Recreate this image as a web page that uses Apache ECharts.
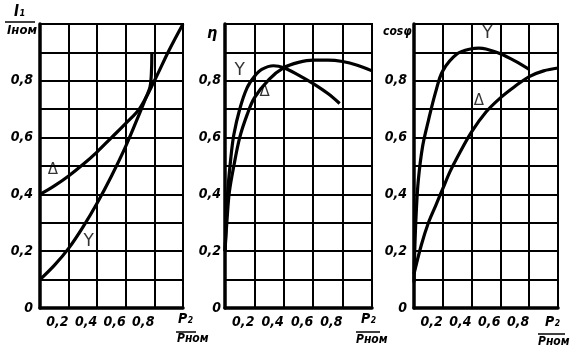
<!DOCTYPE html>
<html><head><meta charset="utf-8">
<script src="https://cdn.jsdelivr.net/npm/echarts@6/dist/echarts.min.js"></script>
<style>html,body{margin:0;padding:0;background:#fff}#c{width:577px;height:357px}</style>
</head><body><div id="c"></div>
<script>
// ---- data ----
const yTickLabels = ['0', '0,2', '0,4', '0,6', '0,8'];
const xTickLabels = ['0,2', '0,4', '0,6', '0,8'];

// panel 1: I1/Iном vs P2/Pном
const current_delta = [[0,0.40],[0.1,0.43],[0.2,0.465],[0.3,0.505],[0.4,0.55],[0.5,0.60],[0.6,0.65],[0.7,0.705],[0.8,0.80],[0.9,0.905],[1.0,1.0]];
const current_star = [[0,0.10],[0.1,0.15],[0.2,0.21],[0.3,0.285],[0.4,0.37],[0.5,0.465],[0.6,0.57],[0.7,0.69],[0.74,0.74],[0.77,0.78],[0.78,0.84],[0.782,0.9]];
// panel 2: η
const eff_star = [[0,0.2],[0.01,0.32],[0.02,0.42],[0.04,0.53],[0.06,0.61],[0.1,0.70],[0.15,0.775],[0.2,0.815],[0.25,0.84],[0.33,0.853],[0.4,0.846],[0.5,0.82],[0.6,0.79],[0.7,0.755],[0.78,0.72]];
const eff_delta = [[0,0.2],[0.015,0.32],[0.03,0.41],[0.06,0.5],[0.1,0.6],[0.15,0.68],[0.2,0.74],[0.3,0.805],[0.4,0.846],[0.5,0.865],[0.6,0.873],[0.7,0.873],[0.8,0.868],[0.9,0.855],[1.0,0.835]];
// panel 3: cosφ
const cos_star = [[0,0.09],[0.005,0.2],[0.015,0.33],[0.03,0.45],[0.06,0.57],[0.1,0.66],[0.15,0.76],[0.2,0.835],[0.3,0.895],[0.4,0.913],[0.45,0.915],[0.5,0.912],[0.6,0.895],[0.7,0.87],[0.8,0.84]];
const cos_delta = [[0,0.12],[0.05,0.22],[0.1,0.30],[0.15,0.36],[0.2,0.42],[0.25,0.48],[0.3,0.53],[0.4,0.62],[0.5,0.69],[0.6,0.74],[0.7,0.78],[0.8,0.815],[0.9,0.835],[1.0,0.845]];

// curve tag positions [x, y]
const tags = [
  [{t:'Δ', p:[0.09,0.485]}, {t:'Y', p:[0.34,0.235]}],
  [{t:'Y', p:[0.10,0.835]}, {t:'Δ', p:[0.27,0.76]}],
  [{t:'Y', p:[0.51,0.965]}, {t:'Δ', p:[0.45,0.73]}]
];

// ---- chart ----
const FONT = '"Liberation Sans Narrow","DejaVu Sans Condensed","Liberation Sans",sans-serif';
const grids = [
  {left:40, top:24, width:143, height:284},
  {left:225, top:24, width:147, height:284},
  {left:414, top:24, width:144, height:284}
];
const yMargins = [7, 4, 7];
const curves = [[current_delta, current_star],[eff_star, eff_delta],[cos_star, cos_delta]];

const option = {
  animation:false,
  backgroundColor:'#fff',
  grid: grids.map(g => Object.assign({show:true, borderColor:'#000', borderWidth:2, containLabel:false}, g)),
  xAxis: grids.map((g,i) => ({
    type:'value', gridIndex:i, min:0, max:1, interval:0.2,
    axisLine:{show:true, onZero:false, lineStyle:{color:'#000', width:3.5}},
    axisTick:{show:false},
    splitLine:{show:true, lineStyle:{color:'#000', width:2}},
    axisLabel:{
      show:true, margin:7, align:'right', color:'#000',
      fontFamily:FONT, fontStyle:'italic', fontWeight:'bold', fontSize:14,
      formatter: v => { const k = Math.round(v*5); return (k>=1 && k<=4) ? xTickLabels[k-1] : ''; }
    }
  })),
  yAxis: grids.map((g,i) => ({
    type:'value', gridIndex:i, min:0, max:1, interval:0.1,
    axisLine:{show:true, onZero:false, lineStyle:{color:'#000', width:3.5}},
    axisTick:{show:false},
    splitLine:{show:true, lineStyle:{color:'#000', width:2}},
    axisLabel:{
      show:true, margin:yMargins[i], color:'#000',
      fontFamily:FONT, fontStyle:'italic', fontWeight:'bold', fontSize:14,
      formatter: v => { const k = Math.round(v*10); return (k%2===0 && k<10) ? yTickLabels[k/2] : ''; }
    }
  })),
  series: [],
  graphic: []
};

curves.forEach((pair, i) => {
  pair.forEach(d => option.series.push({
    type:'line', xAxisIndex:i, yAxisIndex:i, data:d, showSymbol:false, symbol:'none',
    smooth:0.35, lineStyle:{color:'#000', width:3.2}, z:5
  }));
  tags[i].forEach(tg => option.series.push({
    type:'scatter', xAxisIndex:i, yAxisIndex:i, data:[tg.p], symbolSize:1,
    itemStyle:{color:'rgba(0,0,0,0)'},
    label:{show:true, position:'inside', formatter:tg.t, color:'#000',
      fontFamily:'"DejaVu Sans",sans-serif', fontSize:tg.t==='Y'?17:15, fontWeight:'normal'},
    z:6
  }));
});

// axis names (fractions / symbols)
const txt = (x,y,text,size,extra) => Object.assign({type:'text', left:x, top:y,
  style:{text:text, fill:'#000', font:`italic bold ${size}px ${FONT}`}}, extra||{});
const bar = (x1,x2,y) => ({type:'line', shape:{x1:x1,y1:y,x2:x2,y2:y}, style:{stroke:'#000', lineWidth:1.5}});
option.graphic.push(
  // panel 1 y name
  txt(14,5,'I₁',15), bar(5,35,22), txt(7,24,'Iном',13),
  // panel 2 y name
  txt(207,26,'η',16),
  // panel 3 y name
  txt(383,26,'cosφ',12),
  // x names
  txt(178,312,'P₂',14), bar(176,196,332), txt(177,333,'Pном',12),
  txt(361,312,'P₂',14), bar(356,380,332), txt(356,334,'Pном',12),
  txt(545,315,'P₂',14), bar(538,565,334), txt(538,336,'Pном',12)
);

const chart = echarts.init(document.getElementById('c'), null, {renderer:'canvas'});
chart.setOption(option);
</script></body></html>
